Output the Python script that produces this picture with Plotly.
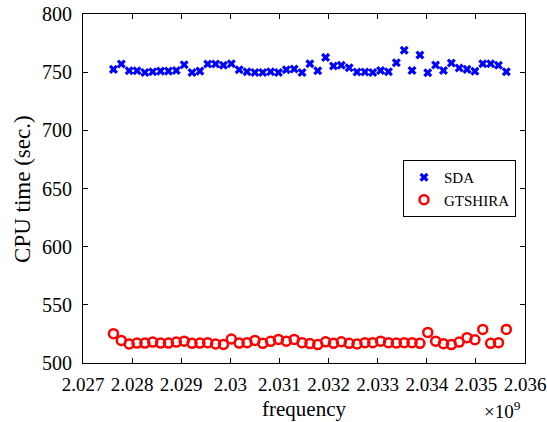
import plotly.graph_objects as go

# frequency (Hz)
freq = [2.02762e9, 2.02778e9, 2.02794e9, 2.02810e9, 2.02826e9, 2.02842e9, 2.02858e9, 2.02874e9,
        2.02890e9, 2.02906e9, 2.02922e9, 2.02938e9, 2.02954e9, 2.02970e9, 2.02986e9, 2.03002e9,
        2.03018e9, 2.03034e9, 2.03050e9, 2.03066e9, 2.03082e9, 2.03098e9, 2.03114e9, 2.03130e9,
        2.03146e9, 2.03162e9, 2.03178e9, 2.03194e9, 2.03210e9, 2.03226e9, 2.03242e9, 2.03258e9,
        2.03274e9, 2.03290e9, 2.03306e9, 2.03322e9, 2.03338e9, 2.03354e9, 2.03370e9, 2.03386e9,
        2.03402e9, 2.03418e9, 2.03434e9, 2.03450e9, 2.03466e9, 2.03482e9, 2.03498e9, 2.03514e9,
        2.03530e9, 2.03546e9, 2.03562e9]

sda = [752.4, 757.0, 751.2, 751.2, 749.8, 750.3, 750.9, 750.9, 751.5, 756.4,
       749.8, 750.9, 757.0, 757.0, 755.9, 757.2, 752.1, 750.3, 749.8, 749.8,
       750.3, 749.8, 752.1, 752.7, 749.8, 757.2, 751.2, 762.7, 755.3, 755.9,
       753.8, 750.1, 750.1, 749.8, 751.5, 750.3, 758.1, 768.8, 751.5, 764.7,
       749.5, 756.1, 751.5, 757.8, 753.5, 752.4, 750.7, 757.2, 757.2, 755.9,
       750.3]

gtshira = [525.2, 519.4, 516.3, 517.1, 517.1, 518.0, 517.1, 517.1, 518.0, 518.8,
           516.9, 517.1, 517.5, 516.3, 516.0, 520.6, 517.1, 517.5, 519.4, 516.9,
           518.6, 520.3, 518.8, 520.3, 517.5, 516.7, 515.8, 518.2, 516.9, 518.3,
           516.9, 516.3, 517.5, 517.5, 518.8, 517.5, 517.1, 517.5, 517.5, 516.9,
           526.3, 518.8, 516.6, 515.8, 518.0, 521.8, 520.0, 528.9, 516.9, 517.5,
           528.9]

x_tickvals = [2.027e9, 2.028e9, 2.029e9, 2.030e9, 2.031e9, 2.032e9, 2.033e9, 2.034e9, 2.035e9, 2.036e9]
x_ticktext = ["2.027", "2.028", "2.029", "2.03", "2.031", "2.032", "2.033", "2.034", "2.035", "2.036"]
y_tickvals = [500, 550, 600, 650, 700, 750, 800]

FONT = "'Liberation Serif', 'Times New Roman', 'DejaVu Serif', serif"

fig = go.Figure()
fig.add_trace(go.Scatter(
    x=freq, y=sda, mode="markers", name="SDA",
    marker=dict(symbol="x", size=8, color="#0000ff", line=dict(width=0)),
))
fig.add_trace(go.Scatter(
    x=freq, y=gtshira, mode="markers", name="GTSHIRA",
    marker=dict(symbol="circle-open", size=9, color="#ff0000", line=dict(width=2.5, color="#ff0000")),
))

axis_common = dict(
    showline=True, linecolor="black", linewidth=1, mirror="ticks",
    ticks="inside", ticklen=5, tickcolor="black", tickwidth=1,
    showgrid=False, zeroline=False, automargin=False,
)

fig.update_xaxes(range=[2.027e9, 2.036e9], tickmode="array", tickvals=x_tickvals,
                 ticktext=x_ticktext, ticklabelstandoff=4,
                 tickfont=dict(family=FONT, size=19, color="black"), **axis_common)
fig.update_yaxes(range=[500, 800], tickmode="array", tickvals=y_tickvals,
                 ticklabelstandoff=6,
                 tickfont=dict(family=FONT, size=20, color="black"), **axis_common)

fig.update_layout(
    width=547, height=422, autosize=False,
    margin=dict(l=82.7, r=22, t=14, b=59.3, pad=0),
    paper_bgcolor="white", plot_bgcolor="white",
    font=dict(family=FONT, color="black"),
    showlegend=True,
    legend=dict(
        x=0.724, y=0.5, xanchor="left", yanchor="middle",
        bgcolor="white", bordercolor="black", borderwidth=1,
        font=dict(family=FONT, size=15, color="black"),
        itemwidth=30, tracegroupgap=0,
    ),
    annotations=[
        dict(text="frequency", xref="paper", yref="paper", x=0.5, y=-0.133,
             xanchor="center", yanchor="middle", showarrow=False,
             font=dict(family=FONT, size=21, color="black")),
        dict(text="×10<sup>9</sup>", xref="paper", yref="paper", x=0.950, y=-0.135,
             xanchor="center", yanchor="middle", showarrow=False,
             font=dict(family=FONT, size=19, color="black")),
        dict(text="CPU time (sec.)", xref="paper", yref="paper", x=-0.137, y=0.5,
             xanchor="center", yanchor="middle", showarrow=False, textangle=-90,
             font=dict(family=FONT, size=23, color="black")),
    ],
)

fig.write_html("out.html")
